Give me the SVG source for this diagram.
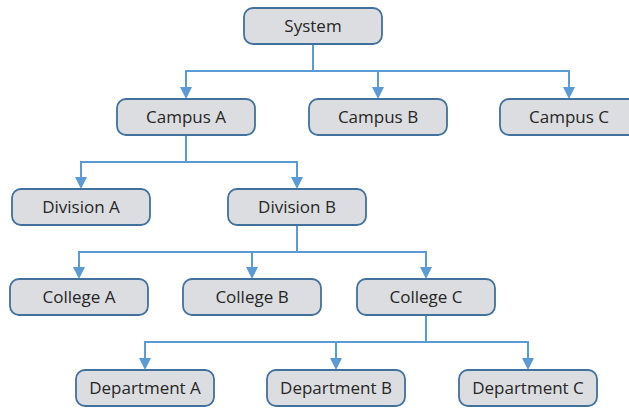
<svg xmlns="http://www.w3.org/2000/svg" width="629" height="409" viewBox="0 0 629 409">
  <style>
    .box { fill: #dcdde0; stroke: #41719c; stroke-width: 1.8; }
    .lbl { font-family: "Open Sans", "Liberation Sans", sans-serif; font-size: 17px; fill: #262626; text-anchor: middle; }
    .wire { fill: none; stroke: #5b9bd5; stroke-width: 2; marker-end: url(#arrow); }
  </style>
  <defs>
    <marker id="arrow" markerUnits="userSpaceOnUse" markerWidth="12" markerHeight="12" refX="4" refY="6" orient="auto">
      <path d="M0,0 L12,6 L0,12 Z" fill="#5b9bd5"/>
    </marker>
  </defs>
  <rect width="629" height="409" fill="#ffffff"/>

  <g id="connectors">
    <path class="wire" d="M313 44 V71 H186 V91"/>
    <path class="wire" d="M313 44 V71 H378 V91"/>
    <path class="wire" d="M313 44 V71 H569 V91"/>
    <path class="wire" d="M186 135 V162 H81 V181"/>
    <path class="wire" d="M186 135 V162 H297 V181"/>
    <path class="wire" d="M297 225 V252 H79 V271"/>
    <path class="wire" d="M297 225 V252 H252 V271"/>
    <path class="wire" d="M297 225 V252 H426 V271"/>
    <path class="wire" d="M426 315 V342 H145 V362"/>
    <path class="wire" d="M426 315 V342 H336 V362"/>
    <path class="wire" d="M426 315 V342 H528 V362"/>
  </g>

  <g id="system"><rect class="box" x="244" y="8" width="138" height="36" rx="9"/><text class="lbl" x="313" y="32">System</text></g>

  <g id="campus-a"><rect class="box" x="117" y="99" width="138" height="36" rx="9"/><text class="lbl" x="186" y="123">Campus A</text></g>
  <g id="campus-b"><rect class="box" x="309" y="99" width="138" height="36" rx="9"/><text class="lbl" x="378" y="123">Campus B</text></g>
  <g id="campus-c"><rect class="box" x="500" y="99" width="138" height="36" rx="9"/><text class="lbl" x="569" y="123">Campus C</text></g>

  <g id="division-a"><rect class="box" x="12" y="189" width="138" height="36" rx="9"/><text class="lbl" x="81" y="213">Division A</text></g>
  <g id="division-b"><rect class="box" x="228" y="189" width="138" height="36" rx="9"/><text class="lbl" x="297" y="213">Division B</text></g>

  <g id="college-a"><rect class="box" x="10" y="279" width="138" height="36" rx="9"/><text class="lbl" x="79" y="303">College A</text></g>
  <g id="college-b"><rect class="box" x="183" y="279" width="138" height="36" rx="9"/><text class="lbl" x="252" y="303">College B</text></g>
  <g id="college-c"><rect class="box" x="357" y="279" width="138" height="36" rx="9"/><text class="lbl" x="426" y="303">College C</text></g>

  <g id="department-a"><rect class="box" x="76" y="370" width="138" height="36" rx="9"/><text class="lbl" x="145" y="394">Department A</text></g>
  <g id="department-b"><rect class="box" x="267" y="370" width="138" height="36" rx="9"/><text class="lbl" x="336" y="394">Department B</text></g>
  <g id="department-c"><rect class="box" x="459" y="370" width="138" height="36" rx="9"/><text class="lbl" x="528" y="394">Department C</text></g>
</svg>
